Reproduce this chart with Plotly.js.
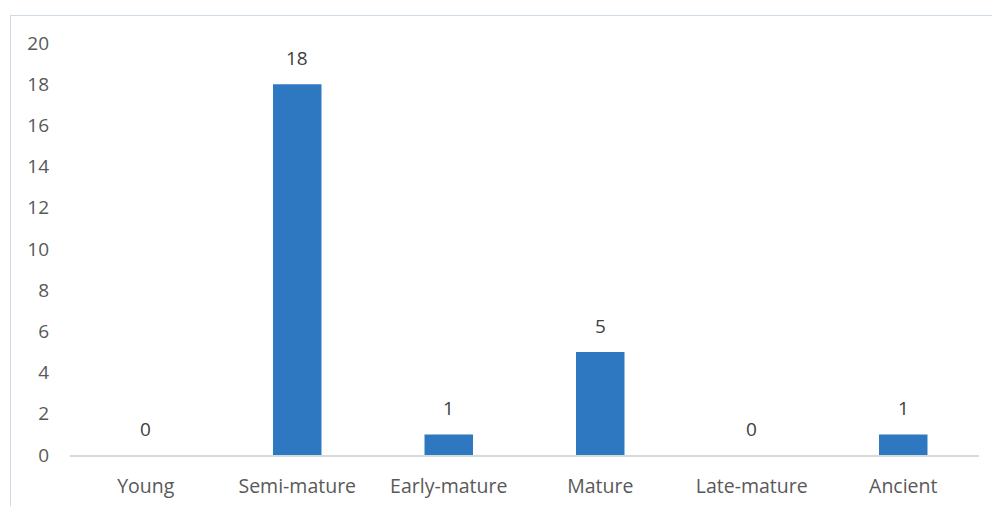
<!DOCTYPE html>
<html>
<head>
<meta charset="utf-8">
<script src="https://cdn.plot.ly/plotly-3.0.1.min.js"></script>
<style>
html,body{margin:0;padding:0;background:#fff;overflow:hidden;width:992px;height:506px;}
#frame{position:absolute;left:10px;top:15px;width:1100px;height:700px;border:1.5px solid #cfdbe6;box-sizing:border-box;}
#chart{position:absolute;left:0;top:0;width:992px;height:506px;}
</style>
</head>
<body>
<div id="frame"></div>
<div id="chart"></div>
<script>
const categories = ["Young","Semi-mature","Early-mature","Mature","Late-mature","Ancient"];
const counts = [0,18,1,5,0,1];
const yTicks = [0,2,4,6,8,10,12,14,16,18,20];

const FONT = '"Open Sans", Lato, sans-serif';

const trace = {
  type:'bar',
  x:categories,
  y:counts,
  marker:{color:'#2e78c2'},
  hoverinfo:'none'
};

const annotations = categories.map((c,i)=>({
  x:c, y:counts[i], xref:'x', yref:'y',
  text:String(counts[i]), showarrow:false,
  yanchor:'bottom', yshift:11,
  font:{family:FONT,size:19,color:'#404040'}
}));

const layout = {
  width:992,height:506,
  margin:{l:70,r:13,t:43,b:51},
  paper_bgcolor:'rgba(0,0,0,0)',
  plot_bgcolor:'rgba(0,0,0,0)',
  bargap:0.68,
  showlegend:false,
  font:{family:FONT,size:19,color:'#595959'},
  annotations:annotations,
  xaxis:{
    showline:true,linecolor:'#d9d9d9',linewidth:1.5,
    ticks:'',ticklabelstandoff:13,
    tickfont:{family:FONT,size:19.5,color:'#595959'},
    showgrid:false,zeroline:false
  },
  yaxis:{
    range:[0,20],tickvals:yTicks,ticktext:yTicks.map(String),
    showgrid:false,zeroline:false,showline:false,
    ticks:'',ticklabelstandoff:20,
    tickfont:{family:FONT,size:19,color:'#595959'}
  }
};

Plotly.newPlot('chart',[trace],layout,{displayModeBar:false,staticPlot:true});
</script>
</body>
</html>
